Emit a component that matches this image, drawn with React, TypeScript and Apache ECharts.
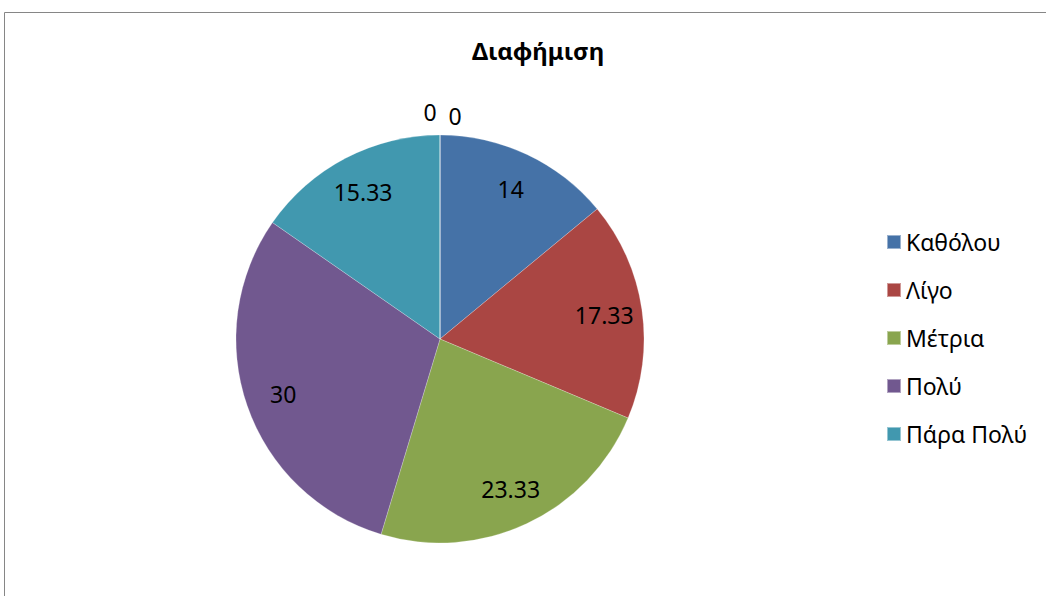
import React, { useEffect, useRef } from "react";
import * as echarts from "echarts";

// Survey answers for "Διαφήμιση" (percentages)
const categories = ["Καθόλου", "Λίγο", "Μέτρια", "Πολύ", "Πάρα Πολύ"];
const values = [14, 17.33, 23.33, 30, 15.33];
// two empty answer groups that still carry a "0" label at the top of the pie
const emptyNames = [" ", "  "];
const emptyValues = [0, 0];
const colors = ["#4572A7", "#AA4643", "#89A54E", "#71588F", "#4198AF"];

const FONT = "'Noto Sans', 'DejaVu Sans', sans-serif";

export default function App() {
  const ref = useRef<HTMLDivElement>(null);

  useEffect(() => {
    document.body.style.margin = "0";
    const chart = echarts.init(ref.current!, null, { renderer: "svg" });

    const mainData = [
      ...categories.map((name, i) => ({
        name,
        value: values[i],
        itemStyle: { color: colors[i] },
      })),
      ...emptyNames.map((name, i) => ({
        name,
        value: emptyValues[i],
        itemStyle: { color: "#ffffff" },
      })),
    ];

    const zeroOffsets = [
      [-10, -61],
      [15, -57],
    ];
    const labelData = [
      ...categories.map((name, i) => ({ name, value: values[i] })),
      ...emptyNames.map((name, i) => ({
        name,
        value: emptyValues[i],
        label: { offset: zeroOffsets[i] },
      })),
    ];

    chart.setOption({
      animation: false,
      backgroundColor: "#ffffff",
      title: {
        text: "Διαφήμιση",
        left: 533,
        textAlign: "center",
        top: 33,
        textStyle: {
          fontFamily: FONT,
          fontWeight: "bold",
          fontSize: 24,
          color: "#000000",
        },
      },
      legend: {
        orient: "vertical",
        left: 886,
        top: 230,
        padding: 0,
        data: categories,
        icon: "rect",
        itemWidth: 14,
        itemHeight: 14,
        itemGap: 24,
        selectedMode: false,
        textStyle: {
          fontFamily: FONT,
          fontSize: 23,
          lineHeight: 24,
          color: "#000000",
          padding: [0, 0, 0, 0],
        },
      },
      graphic: [
        {
          type: "rect",
          shape: { x: 4.5, y: 12.5, width: 1200, height: 800 },
          style: { fill: "none", stroke: "#868686", lineWidth: 1 },
          silent: true,
          z: 100,
        },
      ],
      series: [
        {
          type: "pie",
          center: [440, 339],
          radius: [0, 204],
          startAngle: 90,
          clockwise: true,
          avoidLabelOverlap: false,
          label: { show: false },
          labelLine: { show: false },
          itemStyle: { borderColor: "rgba(255,255,255,0.45)", borderWidth: 0.5 },
          emphasis: { disabled: true },
          silent: true,
          data: mainData,
        },
        {
          // transparent ring that carries the value labels
          type: "pie",
          center: [440, 339],
          radius: [122, 204],
          startAngle: 90,
          clockwise: true,
          avoidLabelOverlap: false,
          silent: true,
          emphasis: { disabled: true },
          itemStyle: { color: "transparent", borderWidth: 0 },
          label: {
            show: true,
            position: "inside",
            formatter: (p: any) => String(p.value),
            fontFamily: FONT,
            fontSize: 23,
            color: "#000000",
          },
          labelLine: { show: false },
          data: labelData,
        },
      ],
    });

    return () => chart.dispose();
  }, []);

  return <div ref={ref} style={{ width: 1046, height: 596 }} />;
}
